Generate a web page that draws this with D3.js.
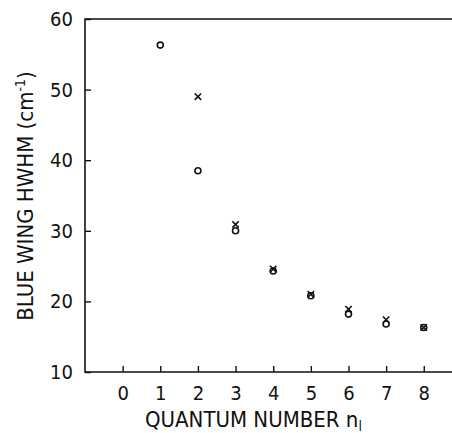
<!DOCTYPE html>
<html>
<head>
<meta charset="utf-8">
<script src="https://cdn.jsdelivr.net/npm/d3@7"></script>
<style>
  body { margin: 0; background: #fff; }
  svg { display: block; }
</style>
</head>
<body>
<div id="chart"></div>
<script>
// data
var circleN = [1, 2, 3, 4, 5, 6, 7, 8];
var circleHwhm = [56.3, 38.5, 30.0, 24.3, 20.8, 18.2, 16.8, 16.3];
var crossN = [2, 3, 4, 5, 6, 7, 8];
var crossHwhm = [49.0, 30.9, 24.6, 21.0, 18.9, 17.4, 16.3];
var xTicks = [0, 1, 2, 3, 4, 5, 6, 7, 8];
var yTicks = [10, 20, 30, 40, 50, 60];

var W = 452, H = 433;
var margin = { top: 19, right: 0, bottom: 61, left: 85 };
var width = W - margin.left - margin.right,
    height = H - margin.top - margin.bottom;

var font = '"DejaVu Sans Condensed", "DejaVu Sans", sans-serif';

var svg = d3.select('#chart').append('svg')
    .attr('width', W)
    .attr('height', H)
    .append('g')
    .attr('transform', `translate(${margin.left},${margin.top})`);

var x = d3.scaleLinear().domain([-1, 8.75]).range([0, width]);
var y = d3.scaleLinear().domain([10, 60]).range([height, 0]);

// frame: left, top, bottom
svg.append('path')
    .attr('d', `M${width},0 H0 V${height} H${width}`)
    .attr('fill', 'none')
    .attr('stroke', '#111')
    .attr('stroke-width', 1.6);

var yAxis = svg.append('g')
    .call(d3.axisLeft(y).tickValues(yTicks).tickSize(-6).tickPadding(12));
yAxis.select('.domain').remove();
yAxis.selectAll('line').attr('stroke', '#111').attr('stroke-width', 1.4);
yAxis.selectAll('text')
    .style('font-family', font)
    .style('font-size', '20px')
    .attr('fill', '#111');

var xAxis = svg.append('g')
    .attr('transform', `translate(0,${height})`)
    .call(d3.axisBottom(x).tickValues(xTicks).tickSize(-6).tickPadding(14));
xAxis.select('.domain').remove();
xAxis.selectAll('line').attr('stroke', '#111').attr('stroke-width', 1.4);
xAxis.selectAll('text')
    .style('font-family', font)
    .style('font-size', '20px')
    .attr('fill', '#111');

// circles
svg.selectAll('circle.pt')
    .data(circleN)
    .enter().append('circle')
    .attr('class', 'pt')
    .attr('cx', (d) => x(d))
    .attr('cy', (d, i) => y(circleHwhm[i]))
    .attr('r', 3)
    .attr('fill', 'none')
    .attr('stroke', '#111')
    .attr('stroke-width', 1.6);

// crosses
var s = 3.2;
svg.selectAll('path.cross')
    .data(crossN)
    .enter().append('path')
    .attr('class', 'cross')
    .attr('transform', (d, i) => `translate(${x(d)},${y(crossHwhm[i])})`)
    .attr('d', `M${-s},${-s}L${s},${s}M${-s},${s}L${s},${-s}`)
    .attr('stroke', '#111')
    .attr('stroke-width', 1.6);

// axis titles
var yl = svg.append('text')
    .attr('transform', `translate(-52,177) rotate(-90)`)
    .attr('text-anchor', 'middle')
    .style('font-family', font)
    .style('font-size', '22px')
    .attr('fill', '#111');
yl.append('tspan').text('BLUE WING HWHM (cm');
yl.append('tspan').attr('dy', -8).style('font-size', '14px').text('-1');
yl.append('tspan').attr('dy', 8).text(')');

var xl = svg.append('text')
    .attr('x', 145 - margin.left)
    .attr('y', height + 55)
    .attr('text-anchor', 'start')
    .style('font-family', font)
    .style('font-size', '22px')
    .attr('fill', '#111');
xl.append('tspan').text('QUANTUM NUMBER n');
xl.append('tspan').attr('dy', 4).style('font-size', '14px').text('l');
</script>
</body>
</html>
